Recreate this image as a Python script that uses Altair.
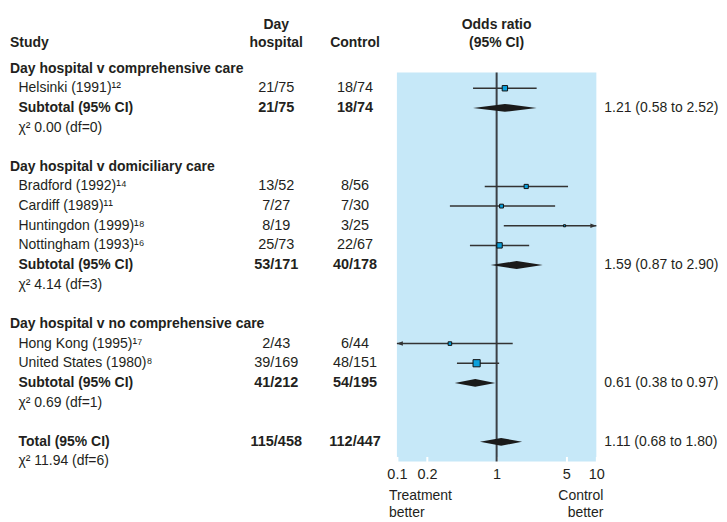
import altair as alt
import pandas as pd
import numpy as np

nan = np.nan

# ---------------- data ----------------
row_labels = [
    "Day hospital v comprehensive care",
    "Helsinki (1991)¹²",
    "Subtotal (95% CI)",
    "χ² 0.00 (df=0)",
    "",
    "Day hospital v domiciliary care",
    "Bradford (1992)¹⁴",
    "Cardiff (1989)¹¹",
    "Huntingdon (1999)¹⁸",
    "Nottingham (1993)¹⁶",
    "Subtotal (95% CI)",
    "χ² 4.14 (df=3)",
    "",
    "Day hospital v no comprehensive care",
    "Hong Kong (1995)¹⁷",
    "United States (1980)⁸",
    "Subtotal (95% CI)",
    "χ² 0.69 (df=1)",
    "",
    "Total (95% CI)",
    "χ² 11.94 (df=6)",
]
row_kinds = ["group", "study", "pooled", "chi", "blank",
             "group", "study", "study", "study", "study", "pooled", "chi", "blank",
             "group", "study", "study", "pooled", "chi", "blank",
             "pooled", "chi"]
day_hospital = ["", "21/75", "21/75", "", "",
                "", "13/52", "7/27", "8/19", "25/73", "53/171", "", "",
                "", "2/43", "39/169", "41/212", "", "",
                "115/458", ""]
control = ["", "18/74", "18/74", "", "",
           "", "8/56", "7/30", "3/25", "22/67", "40/178", "", "",
           "", "6/44", "48/151", "54/195", "", "",
           "112/447", ""]
or_est = [nan, 1.21, 1.21, nan, nan,
          nan, 1.98, 1.12, 4.8, 1.07, 1.59, nan, nan,
          nan, 0.34, 0.63, 0.61, nan, nan,
          1.11, nan]
or_low = [nan, 0.58, 0.58, nan, nan,
          nan, 0.76, 0.34, 1.18, 0.54, 0.87, nan, nan,
          nan, 0.06, 0.40, 0.38, nan, nan,
          0.68, nan]
or_high = [nan, 2.52, 2.52, nan, nan,
           nan, 5.2, 3.86, 24.0, 2.12, 2.90, nan, nan,
           nan, 1.45, 1.06, 0.97, nan, nan,
           1.80, nan]
weight = [nan, 18.2, nan, nan, nan,
          nan, 11.1, 9.3, 2.7, 18.2, nan, nan, nan,
          nan, 8.1, 32.3, nan, nan, nan,
          nan, nan]
result_text = ["", "", "1.21 (0.58 to 2.52)", "", "",
               "", "", "", "", "", "1.59 (0.87 to 2.90)", "", "",
               "", "", "", "0.61 (0.38 to 0.97)", "", "",
               "1.11 (0.68 to 1.80)", ""]

study_header = ["Study"]
dayhosp_header = ["Day", "hospital"]
control_header = ["Control"]
or_header = ["Odds ratio", "(95% CI)"]
axis_values = [0.1, 0.2, 1, 5, 10]
favours_left = ["Treatment", "better"]
favours_right = ["Control", "better"]

# ---------------- styling ----------------
FONT = "Liberation Sans, Arial, sans-serif"
FS = 14
TXT = "#231f20"
BG = "#c6e8f8"
SQ = "#0aa0dc"
LINE = "#333333"
XMIN, XMAX = 0.1, 10
HALF = 0.2          # half height of a pooled diamond, in rows
HEAD_LAST = -1.3    # row of the last header line
HEAD_STEP = 0.92
FOOT_FIRST = 21.75
FOOT_STEP = 0.85

df = pd.DataFrame({
    "label": row_labels, "kind": row_kinds, "dh": day_hospital, "ct": control,
    "est": or_est, "lo": or_low, "hi": or_high, "w": weight, "res": result_text,
})
df["row"] = np.arange(len(df))
df["lo_c"] = df["lo"].clip(lower=XMIN)
df["hi_c"] = df["hi"].clip(upper=XMAX)

studies = df[df.kind == "study"].copy()
pooled = df[df.kind == "pooled"].copy()

arrows = []
for _, r in studies.iterrows():
    if r.hi > XMAX:
        arrows.append({"row": r.row, "x": XMAX, "dir": "right"})
    if r.lo < XMIN:
        arrows.append({"row": r.row, "x": XMIN, "dir": "left"})
arrows = pd.DataFrame(arrows)

diam = []
for _, r in pooled.iterrows():
    diam.append({"key": r.row, "x": r.lo, "ya": r.row, "yb": r.row})
    diam.append({"key": r.row, "x": r.est, "ya": r.row - HALF, "yb": r.row + HALF})
    diam.append({"key": r.row, "x": r.hi, "ya": r.row, "yb": r.row})
diam = pd.DataFrame(diam)


def header_df(lines):
    n = len(lines)
    return pd.DataFrame({"t": lines,
                         "row": [HEAD_LAST - (n - 1 - i) * HEAD_STEP for i in range(n)]})


def foot_df(lines):
    return pd.DataFrame({"t": lines,
                         "row": [FOOT_FIRST + i * FOOT_STEP for i in range(len(lines))]})


yscale = alt.Scale(domain=[0.2, 20], reverse=True, zero=False, nice=False)


def Y(field="row"):
    return alt.Y(f"{field}:Q", scale=yscale, axis=None)


xscale = alt.Scale(type="log", domain=[XMIN, XMAX], nice=False)
xaxis = alt.Axis(values=axis_values, format="~g", title=None, domain=False, grid=False,
                 ticks=True, tickColor="white", tickWidth=2, tickSize=5, offset=-5,
                 labelPadding=6, labelFont=FONT, labelFontSize=14.5, labelColor=TXT,
                 labelFlush=False, labelOverlap=False)


def X(field=None, datum=None):
    if datum is not None:
        return alt.X(datum=datum, type="quantitative", scale=xscale, axis=xaxis)
    return alt.X(f"{field}:Q", scale=xscale, axis=xaxis)


def txt(**kw):
    base = dict(font=FONT, fontSize=FS, color=TXT, baseline="middle")
    base.update(kw)
    return base


H = 390

# ---- panel 1 : study names ----
p1 = alt.layer(
    alt.Chart(header_df(study_header)).mark_text(**txt(align="left", fontWeight="bold"))
    .encode(x=alt.value(0), y=Y(), text="t:N"),
    alt.Chart(df[df.kind == "group"]).mark_text(**txt(align="left", fontWeight="bold"))
    .encode(x=alt.value(0), y=Y(), text="label:N"),
    alt.Chart(df[df.kind == "pooled"]).mark_text(**txt(align="left", fontWeight="bold"))
    .encode(x=alt.value(8.5), y=Y(), text="label:N"),
    alt.Chart(df[df.kind.isin(["study", "chi"])]).mark_text(**txt(align="left"))
    .encode(x=alt.value(8.5), y=Y(), text="label:N"),
).properties(width=230, height=H)


def count_panel(col, header, w):
    return alt.layer(
        alt.Chart(header_df(header)).mark_text(**txt(align="center", fontWeight="bold"))
        .encode(x=alt.value(w / 2), y=Y(), text="t:N"),
        alt.Chart(df[df.kind == "study"]).mark_text(**txt(align="center", fontSize=14.5))
        .encode(x=alt.value(w / 2), y=Y(), text=f"{col}:N"),
        alt.Chart(df[df.kind == "pooled"]).mark_text(**txt(align="center", fontWeight="bold", fontSize=14.5))
        .encode(x=alt.value(w / 2), y=Y(), text=f"{col}:N"),
    ).properties(width=w, height=H)


p2 = count_panel("dh", dayhosp_header, 74)
p3 = count_panel("ct", control_header, 84)

# ---- panel 4 : forest plot ----
vline = alt.Chart(df.head(1)).mark_rule(color="#3b4046", strokeWidth=2).encode(x=X(datum=1))
ci = alt.Chart(studies).mark_rule(color=LINE, strokeWidth=1.5).encode(
    x=X("lo_c"), x2="hi_c", y=Y())
arrow_r = alt.Chart(arrows[arrows.dir == "right"]).mark_point(
    shape="M0,0L-2,-0.75L-2,0.75Z", filled=True, fill=LINE, strokeWidth=0, size=36, opacity=1
).encode(x=X("x"), y=Y())
arrow_l = alt.Chart(arrows[arrows.dir == "left"]).mark_point(
    shape="M0,0L2,-0.75L2,0.75Z", filled=True, fill=LINE, strokeWidth=0, size=36, opacity=1
).encode(x=X("x"), y=Y())
squares = alt.Chart(studies).mark_square(fill=SQ, stroke="#111111", strokeWidth=1, opacity=1).encode(
    x=X("est"), y=Y(),
    size=alt.Size("w:Q", scale=alt.Scale(domain=[0, 100], range=[0, 160]), legend=None))
diamonds = alt.Chart(diam).mark_area(color="#1a1a1a", opacity=1).encode(
    x=X("x"), y=alt.Y("ya:Q", scale=yscale, axis=None), y2="yb:Q", detail="key:N")
or_head = alt.Chart(header_df(or_header)).mark_text(**txt(align="center", fontWeight="bold")).encode(
    x=alt.value(100), y=Y(), text="t:N")
foot_l = alt.Chart(foot_df(favours_left)).mark_text(**txt(align="left", dx=-8)).encode(
    x=X(datum=XMIN), y=Y(), text="t:N")
foot_r = alt.Chart(foot_df(favours_right)).mark_text(**txt(align="right", dx=7)).encode(
    x=X(datum=XMAX), y=Y(), text="t:N")

p4 = alt.layer(vline, ci, arrow_r, arrow_l, diamonds, squares, or_head, foot_l, foot_r).properties(
    width=200, height=H, view=alt.ViewBackground(fill=BG, stroke=None))

# ---- panel 5 : pooled estimates ----
p5 = alt.Chart(df[df.kind == "pooled"]).mark_text(**txt(align="left")).encode(
    x=alt.value(8), y=Y(), text="res:N").properties(width=112, height=H)

chart = alt.hconcat(p1, p2, p3, p4, p5, spacing=0, bounds="flush").properties(
    padding={"left": 2, "top": 9, "right": 0, "bottom": 0}
).configure_view(stroke=None)

chart.save("out.html", embed_options={"renderer": "svg", "actions": False})
